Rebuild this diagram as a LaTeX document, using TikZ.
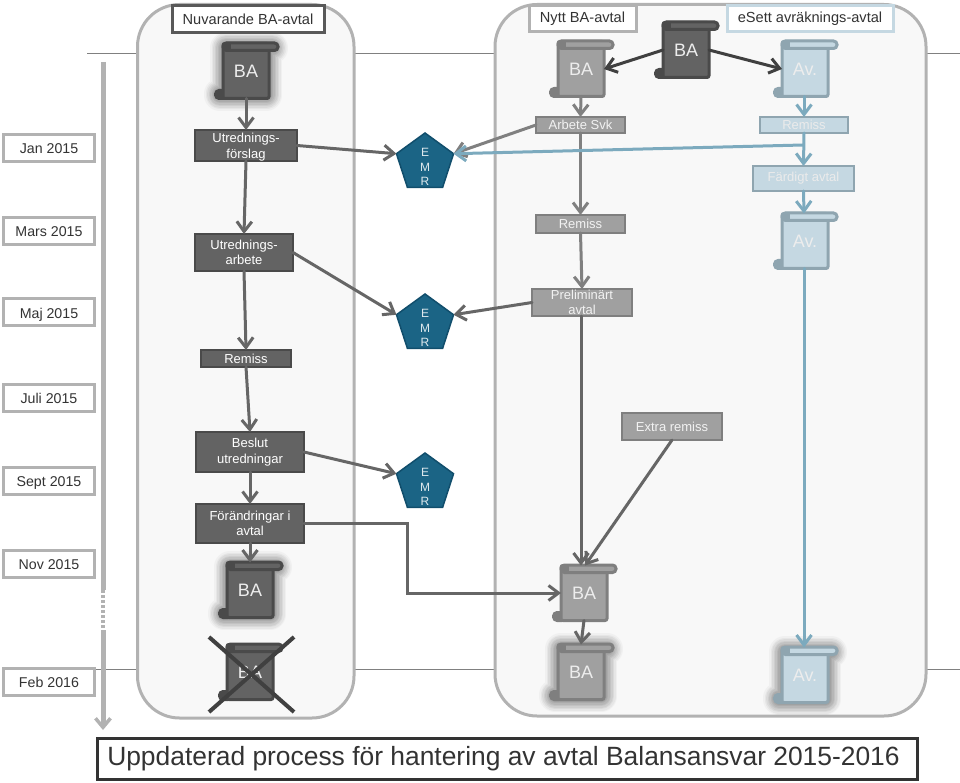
\documentclass[tikz,border=0pt]{standalone}
\usepackage{fontspec}
\setmainfont{Liberation Sans}
\usetikzlibrary{arrows.meta,shapes.geometric,calc}
\definecolor{dkfill}{HTML}{636363}
\definecolor{dkline}{HTML}{4A4A4A}
\definecolor{mdfill}{HTML}{A0A0A0}
\definecolor{mdline}{HTML}{7F7F7F}
\definecolor{blfill}{HTML}{C5D8E2}
\definecolor{blline}{HTML}{8FA5B0}
\definecolor{blarrow}{HTML}{7CAABE}
\definecolor{panelfill}{HTML}{F8F8F8}
\definecolor{panelline}{HTML}{B2B2B2}
\definecolor{emrfill}{HTML}{1B6485}
\definecolor{emrline}{HTML}{114E6C}
\tikzset{
  every node/.style={inner sep=0pt,outer sep=0pt,align=center},
  procbox/.style={draw,line width=2.5pt,font=\fontsize{13}{15.3}\selectfont,text=white},
  dk/.style={procbox,fill=dkfill,draw=dkline},
  md/.style={procbox,fill=mdfill,draw=mdline,text=white!95!black},
  bl/.style={procbox,fill=blfill,draw=blline,text=white!92!black},
  headbox/.style={draw,line width=3pt,fill=white,text=black!80,font=\fontsize{14.6}{16}\selectfont},
  datebox/.style={draw=panelline,line width=3pt,fill=white,text=black!80,font=\fontsize{14.2}{16}\selectfont,minimum width=91pt,minimum height=27pt,text height=12pt,text depth=0pt},
  panel/.style={draw=panelline,line width=3pt,fill=panelfill,rounded corners=42pt},
  emr/.style={regular polygon,regular polygon sides=5,minimum size=60pt,fill=emrfill,draw=emrline,line width=1.5pt},
  emrtext/.style={text=white!85!emrfill,font=\fontsize{12}{14.3}\selectfont},
  conn/.style={line width=3pt,-{Straight Barb[length=10pt,width=15pt,line width=3pt]},line cap=round},
  cdk/.style={conn,draw=black!60},
  cmd/.style={conn,draw=black!50},
  cbk/.style={conn,draw=black!75},
  cbl/.style={conn,draw=blarrow},
  rule/.style={draw=black!50,line width=1pt},
  timeline/.style={draw=panelline,line width=5pt},
  scrollbody/.style={draw,line width=3pt,rounded corners=2pt,minimum width=46pt,minimum height=55pt,font=\fontsize{18}{20}\selectfont,text=white!93!black},
}
% name, x, y, text, fill, line, roll fill, glow (0/1)
\newcommand{\scrolldoc}[8]{%
  \ifnum#8=1
    \foreach \w/\o in {32/.05,29/.07,26/.09,23/.10,20/.11,17/.12,14/.13,11/.14,8/.14}{
      \draw[line width=\w pt,opacity=\o,draw=black!60,fill=none,line join=round]
        ({#2-26},{#3+23}) -- ({#2-20},{#3+23}) -- ({#2-20},{#3-23}) -- ({#2+26},{#3-23}) -- ({#2+20},{#3-23}) -- ({#2+20},{#3+24}) -- ({#2-26},{#3+24}) -- cycle;
    }
  \fi
  \draw[#6,fill=#6,line width=2pt,rounded corners=4pt] ({#2-31},{#3+19}) rectangle ({#2-18},{#3+28});
  \node[scrollbody,fill=#5,draw=#6] (#1) at (#2,#3) {\raisebox{-2.5pt}{#4}};
  \draw[#6,fill=#7,line width=3pt,rounded corners=3.5pt] ({#2-23},{#3-28}) rectangle ({#2+32},{#3-20.5});
  \fill[#6] ({#2-23},{#3-28}) rectangle ({#2-15},{#3-20.5});
}
\begin{document}
\begin{tikzpicture}[x=1pt,y=-1pt]
\useasboundingbox (0,0) rectangle (960,783);
% horizontal rules
\coordinate (r1a) at (87,54); \coordinate (r1b) at (960,54);
\coordinate (r2a) at (96,669.5); \coordinate (r2b) at (960,669.5);
\draw[rule] (r1a) -- (r1b);
\draw[rule] (r2a) -- (r2b);
% panels
\draw[panel] (137.5,4.5) rectangle (354,718);
\draw[panel] (495,4.5) rectangle (926,716);
% time line
\coordinate (t0) at (103,62); \coordinate (t1) at (103,590); \coordinate (t2) at (103,630); \coordinate (t3) at (103,730);
\draw[timeline] (t0) -- (t1);
\draw[timeline,line width=4pt,dash pattern=on 3pt off 2pt] (t1) -- (t2);
\draw[timeline,-{Straight Barb[length=9pt,width=15pt,line width=3.5pt]}] (t2) -- (t3);
% head boxes
\node[headbox,draw=black!65,minimum width=152pt,minimum height=27pt] (hn) at (248,19.5) {Nuvarande BA-avtal};
\node[headbox,draw=panelline,minimum width=107pt,minimum height=26pt] (hy) at (582.5,19) {Nytt BA-avtal};
\node[headbox,draw=blfill,minimum width=166pt,minimum height=26pt] (he) at (810,19) {eSett avräknings-avtal};
% dates
\node[datebox] (d1) at (49,148) {Jan 2015};
\node[datebox] (d2) at (49,231) {Mars 2015};
\node[datebox] (d3) at (49,312) {Maj 2015};
\node[datebox] (d4) at (49,397.5) {Juli 2015};
\node[datebox] (d5) at (49,480.5) {Sept 2015};
\node[datebox] (d6) at (49,563.5) {Nov 2015};
\node[datebox] (d7) at (49,681.5) {Feb 2016};
% scrolls
\scrolldoc{s1}{246}{71}{BA}{dkfill}{dkline}{dkfill}{1}
\scrolldoc{s2}{686}{50}{BA}{dkfill}{dkline}{dkfill}{0}
\scrolldoc{s3}{581}{69}{BA}{mdfill}{mdline}{mdfill}{0}
\scrolldoc{s4}{805}{69}{Av.}{blfill}{blline}{blfill}{0}
\scrolldoc{s5}{805}{241}{Av.}{blfill}{blline}{blfill}{0}
\scrolldoc{s6}{250}{590}{BA}{dkfill}{dkline}{dkfill}{1}
\scrolldoc{s7}{250}{672}{BA}{dkfill}{dkline}{dkfill}{0}
\scrolldoc{s8}{584}{593}{BA}{mdfill}{mdline}{mdfill}{0}
\scrolldoc{s9}{581}{672}{BA}{mdfill}{mdline}{mdfill}{1}
\scrolldoc{s10}{805}{675}{Av.}{blfill}{blline}{blfill}{1}
% process boxes
\node[dk,minimum width=102pt,minimum height=29pt] (uf) at (246,145.5) {\rule{0pt}{13pt}Utrednings-\\förslag};
\node[dk,minimum width=98pt,minimum height=37pt] (ua) at (244,252.5) {Utrednings-\\arbete};
\node[dk,minimum width=90pt,minimum height=17pt] (rl) at (246,358.5) {Remiss};
\node[dk,minimum width=108pt,minimum height=40pt] (bu) at (250,452) {Beslut\\utredningar};
\node[dk,minimum width=108pt,minimum height=39pt] (fa) at (250,523.5) {Förändringar i\\avtal};
\node[md,minimum width=89pt,minimum height=16pt] (as) at (580.5,125) {Arbete Svk};
\node[md,minimum width=89pt,minimum height=18pt] (rm) at (580.5,224) {Remiss};
\node[md,minimum width=100pt,minimum height=27pt] (pa) at (582,302.5) {Preliminärt\\avtal};
\node[md,minimum width=100pt,minimum height=27pt] (er) at (672,426.5) {Extra remiss};
\node[bl,minimum width=88pt,minimum height=16pt] (rr) at (804,125) {Remiss};
\node[bl,minimum width=101pt,minimum height=25pt] (fd) at (803.5,178.5) {Färdigt avtal};
% EMR
\node[emr] (e1) at (425,163) {};
\node[emr] (e2) at (425,324) {};
\node[emr] (e3) at (425,483) {};
\node[emrtext] (t1e) at (425,167) {E\\M\\R};
\node[emrtext] (t2e) at (425,328) {E\\M\\R};
\node[emrtext] (t3e) at (425,487) {E\\M\\R};
% connectors, left
\draw[cdk] (s1.south) -- (uf.north);
\draw[cdk] (uf.east) -- (e1.corner 2);
\draw[cdk] (uf.south) -- (ua.north);
\draw[cdk] (ua.east) -- (e2.corner 2);
\draw[cdk] (ua.south) -- (rl.north);
\draw[cdk] (rl.south) -- (bu.north);
\draw[cdk] (bu.south) -- (fa.north);
\draw[cdk] (fa.south) -- (s6.north);
\draw[cdk] (bu.east) -- (e3.corner 2);
\coordinate (bend1) at (407,523.5);
\coordinate (bend2) at (407,593);
\draw[cdk] (fa.east) -- (bend1) -- (bend2) -- (s8.west);
% connectors, middle
\draw[cmd] (as.west) -- (e1.corner 5);
\draw[cmd] (s3.south) -- (as.north);
\draw[cmd] (as.south) -- (rm.north);
\draw[cmd] (rm.south) -- (pa.north);
\draw[cdk] ([xshift=-1pt]pa.south) -- ([xshift=-3pt]s8.north);
\draw[cdk] (pa.west) -- (e2.corner 5);
\draw[cdk] (er.south) -- ([xshift=1pt]s8.north);
\draw[cdk] (s8.south) -- (s9.north);
\draw[cbk] (s2.west) -- (s3.east);
\draw[cbk] (s2.east) -- (s4.west);
% connectors, right
\draw[cbl] ([xshift=-1pt]s4.south) -- (rr.north);
\coordinate (bl0) at (803,145);
\draw[cbl] (bl0) -- (e1.corner 5);
\draw[cbl] (rr.south) -- (fd.north);
\draw[cbl] (fd.south) -- ([xshift=-1pt]s5.north);
\draw[cbl] ([xshift=-1pt]s5.south) -- ([xshift=-1pt]s10.north);
% cross
\coordinate (x1) at (209,637); \coordinate (x2) at (294,712);
\coordinate (x3) at (294,637); \coordinate (x4) at (209,712);
\draw[draw=black!75,line width=4pt] (x1) -- (x2);
\draw[draw=black!75,line width=4pt] (x3) -- (x4);
% title
\node[draw=black!80,line width=3pt,fill=white,text=black!80,minimum width=820pt,minimum height=41pt,font=\fontsize{26.4}{30}\selectfont] (title) at (507,758.5) {\hspace*{-7pt}Uppdaterad process för hantering av avtal Balansansvar 2015-2016};
\end{tikzpicture}
\end{document}
